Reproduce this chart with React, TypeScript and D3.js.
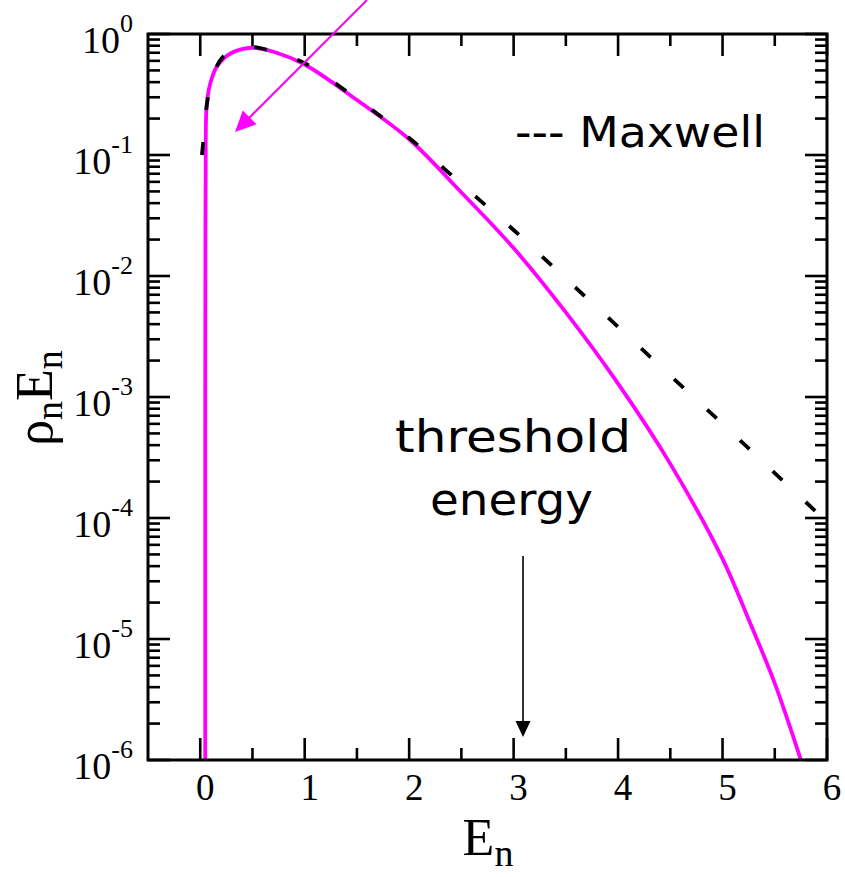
import React from "react";
import * as d3 from "d3";

const W = 845;
const H = 877;

// Pink solid curve (computed distribution), energy E_n and rho_n*E_n
const pinkE = [0.048, 0.048, 0.05, 0.052, 0.057, 0.07, 0.096, 0.16, 0.29, 0.5, 0.73, 1.0, 1.5, 2.0, 2.5, 3.0, 3.5, 4.0, 4.5, 5.0, 5.25, 5.5, 5.75];
const pinkV = [1e-6, 1e-3, 0.025, 0.063, 0.22, 0.3, 0.39, 0.54, 0.69, 0.77, 0.7, 0.56, 0.285, 0.135, 0.049, 0.017, 0.005, 0.00129, 0.00028, 4.6e-5, 1.45e-5, 4.3e-6, 1.0e-6];

// Maxwell (dashed)
const maxE = [0.016, 0.03, 0.05, 0.08, 0.12, 0.22, 0.35, 0.5, 0.73, 1.0, 1.5, 2.0, 2.5, 3.0, 3.5, 4.0, 4.5, 5.0, 5.5, 6.0];
const maxV = [0.1, 0.13, 0.21, 0.32, 0.45, 0.65, 0.74, 0.78, 0.7, 0.575, 0.29, 0.138, 0.0575, 0.024, 0.0095, 0.0038, 0.0015, 0.0006, 0.000235, 0.000093];

const xTicks = [0, 1, 2, 3, 4, 5, 6];
const xMinor = [0.5, 1.5, 2.5, 3.5, 4.5, 5.5];
const yExps = [0, -1, -2, -3, -4, -5, -6];
const thresholdE = 3.09;

const M = { left: 148, top: 34, right: 827, bottom: 760 };

export default function App() {
  const x = d3.scaleLinear().domain([-0.5, 6]).range([M.left, M.right]);
  const y = d3.scaleLog().domain([1e-6, 1]).range([M.bottom, M.top]);

  const line = d3
    .line<[number, number]>()
    .x((d) => x(d[0]))
    .y((d) => y(d[1]))
    .curve(d3.curveCatmullRom.alpha(0.5));

  const pinkPts = pinkE.map((e, i) => [e, pinkV[i]] as [number, number]);
  const maxPts = maxE.map((e, i) => [e, maxV[i]] as [number, number]);

  const yMinor: number[] = [];
  for (let p = -6; p < 0; p++) {
    for (let k = 2; k <= 9; k++) yMinor.push(k * Math.pow(10, p));
  }

  const majLen = 22;
  const minLen = 12;
  const tickStroke = 2.6;
  const serif = "'Liberation Serif', 'Times New Roman', serif";
  const comic = "'DejaVu Sans', sans-serif";

  const ax = x(thresholdE);

  return (
    <svg width={W} height={H} style={{ position: "absolute", left: 0, top: 0, background: "#fff" }}>
      <defs>
        <clipPath id="plotclip">
          <rect x={M.left} y={0} width={M.right - M.left} height={M.bottom} />
        </clipPath>
      </defs>
      <rect x={0} y={0} width={W} height={H} fill="#fff" />

      {/* Curves */}
      <g clipPath="url(#plotclip)">
        <path d={line(pinkPts) || ""} fill="none" stroke="#ff00ff" strokeWidth={3.8} />
        <path d={line(maxPts) || ""} fill="none" stroke="#000" strokeWidth={3.8} strokeDasharray="13 32" />
      </g>

      {/* Ticks */}
      <g stroke="#000" strokeWidth={tickStroke}>
        {xTicks.map((t) => (
          <g key={"xt" + t}>
            <line x1={x(t)} x2={x(t)} y1={M.bottom} y2={M.bottom - majLen} />
            <line x1={x(t)} x2={x(t)} y1={M.top} y2={M.top + majLen} />
          </g>
        ))}
        {xMinor.map((t) => (
          <g key={"xm" + t}>
            <line x1={x(t)} x2={x(t)} y1={M.bottom} y2={M.bottom - minLen} />
            <line x1={x(t)} x2={x(t)} y1={M.top} y2={M.top + minLen} />
          </g>
        ))}
        {yExps.map((p) => (
          <g key={"yt" + p}>
            <line x1={M.left} x2={M.left + majLen} y1={y(Math.pow(10, p))} y2={y(Math.pow(10, p))} />
            <line x1={M.right} x2={M.right - majLen} y1={y(Math.pow(10, p))} y2={y(Math.pow(10, p))} />
          </g>
        ))}
        {yMinor.map((v, i) => (
          <g key={"ym" + i}>
            <line x1={M.left} x2={M.left + minLen} y1={y(v)} y2={y(v)} />
            <line x1={M.right} x2={M.right - minLen} y1={y(v)} y2={y(v)} />
          </g>
        ))}
      </g>

      {/* Frame */}
      <rect x={M.left} y={M.top} width={M.right - M.left} height={M.bottom - M.top} fill="none" stroke="#000" strokeWidth={3} />

      {/* X tick labels */}
      {xTicks.map((t) => (
        <text key={"xl" + t} x={x(t) + 5} y={800} textAnchor="middle" fontFamily={serif} fontSize={37} fill="#000">
          {t}
        </text>
      ))}

      {/* Y tick labels */}
      {yExps.map((p) => (
        <text key={"yl" + p} x={133} y={y(Math.pow(10, p)) + 19} textAnchor="end" fontFamily={serif} fontSize={38} fill="#000">
          10
          <tspan fontSize={26} dy={-21}>{p}</tspan>
        </text>
      ))}

      {/* Axis labels */}
      <text x={488} y={855} textAnchor="middle" fontFamily={serif} fontSize={52} fill="#000">
        E<tspan fontSize={38} dy={11}>n</tspan>
      </text>
      <text transform="translate(52,398) rotate(-90)" textAnchor="middle" fontFamily={serif} fontSize={52} fill="#000">
        ρ<tspan fontSize={38} dy={10}>n</tspan>
        <tspan dy={-10}>E</tspan>
        <tspan fontSize={38} dy={10}>n</tspan>
      </text>

      {/* Annotations */}
      <text x={515} y={147} fontFamily={comic} fontSize={42} fill="#000" textLength={250} lengthAdjust="spacingAndGlyphs">
        --- Maxwell
      </text>
      <text x={395} y={452} fontFamily={comic} fontSize={44} fill="#000" textLength={236} lengthAdjust="spacingAndGlyphs">
        threshold
      </text>
      <text x={430} y={515} fontFamily={comic} fontSize={44} fill="#000" textLength={163} lengthAdjust="spacingAndGlyphs">
        energy
      </text>

      {/* Threshold arrow */}
      <line x1={ax} x2={ax} y1={556} y2={724} stroke="#000" strokeWidth={1.6} />
      <path d={`M${ax - 7.5},${721} L${ax + 7.5},${721} L${ax},${737} Z`} fill="#000" />

      {/* Pink arrow from top */}
      <line x1={367} y1={0} x2={245} y2={122} stroke="#ff00ff" strokeWidth={2} />
      <path d="M235,132 L242.8,110.5 L256.5,124.2 Z" fill="#ff00ff" />
    </svg>
  );
}
